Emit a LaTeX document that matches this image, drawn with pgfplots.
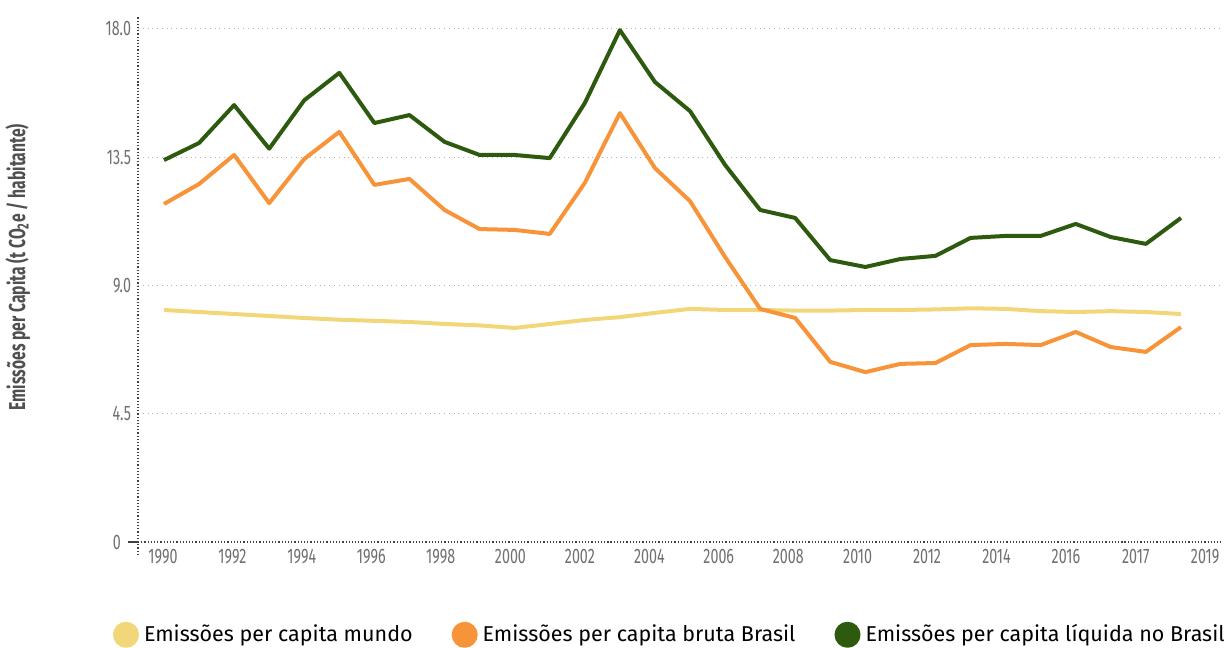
\documentclass[border=0pt]{standalone}
\usepackage{fontspec}
\setmainfont{Fira Sans}
\newfontfamily\cond[FakeStretch=0.68]{Fira Sans}
\usepackage{pgfplots}
\pgfplotsset{compat=1.18}
\definecolor{cyel}{HTML}{F2D77A}
\definecolor{corg}{HTML}{F7943A}
\definecolor{cgrn}{HTML}{2E5A0F}
\definecolor{tickgray}{HTML}{707070}
\definecolor{labgray}{HTML}{505050}
\begin{document}
\begin{tikzpicture}
\useasboundingbox (-69bp,-46.5bp) rectangle (546bp,277.5bp);
\begin{axis}[
  scale only axis, width=542bp, height=269.5bp,
  xmin=-0.741, xmax=30.17, ymin=-0.456, ymax=18.456,
  axis x line=middle, axis y line=left,
  axis line style={-, draw=black!75, densely dotted, line width=0.6bp},
  xtick={-0.03,1.95,3.93,5.91,7.89,9.88,11.86,13.84,15.82,17.80,19.78,21.76,23.74,25.72,27.71,29.69},
  xticklabels={1990,1992,1994,1996,1998,2000,2002,2004,2006,2008,2010,2012,2014,2016,2017,2019},
  ytick={4.5,9,13.5,18}, yticklabels={4.5,9.0,13.5,18.0},
  extra y ticks={0}, extra y tick labels={0},
  extra y tick style={grid=none, major tick length=5bp, tick align=outside, tick style={draw=black!75, line width=0.6bp}},
  major tick length=0pt,
  ymajorgrids, grid style={draw=black!30, dotted, line width=0.5bp},
  tick label style={font=\cond\fontsize{10.5bp}{12bp}\selectfont, text=tickgray},
  ylabel={\cond\bfseries\fontsize{11.5bp}{13bp}\selectfont Emissões per Capita (t CO\textsubscript{2}e / habitante)},
  ylabel style={at={(axis description cs:-0.111,0.534)}, anchor=center, text=labgray},
  legend columns=3,
  legend style={at={(axis description cs:0.492,-0.148)}, anchor=center, draw=none, fill=none,
    font=\fontsize{10.75bp}{13bp}\selectfont, text=black,
    nodes={inner xsep=2.5bp},
    /tikz/every even column/.append style={column sep=17bp}},
  legend image code/.code={\fill[#1] (5.5bp,0bp) circle (5.5bp);},
  every axis plot/.append style={line width=2bp, mark=none, line join=round},
]
\addplot[color=cyel] coordinates {
(0,8.14) (1,8.07) (2,8.00) (3,7.93) (4,7.86) (5,7.80) (6,7.76) (7,7.72) (8,7.65) (9,7.60)
(10,7.51) (11,7.65) (12,7.79) (13,7.89) (14,8.04) (15,8.18) (16,8.14) (17,8.14) (18,8.12) (19,8.12)
(20,8.14) (21,8.14) (22,8.16) (23,8.20) (24,8.18) (25,8.10) (26,8.07) (27,8.10) (28,8.07) (29,8.00)};
\addlegendentry{Emissões per capita mundo}
\addplot[color=corg] coordinates {
(0,11.86) (1,12.56) (2,13.58) (3,11.89) (4,13.44) (5,14.39) (6,12.53) (7,12.74) (8,11.65) (9,10.98)
(10,10.95) (11,10.81) (12,12.60) (13,15.05) (14,13.12) (15,11.96) (16,10.00) (17,8.18) (18,7.86) (19,6.32)
(20,5.96) (21,6.25) (22,6.28) (23,6.91) (24,6.95) (25,6.91) (26,7.37) (27,6.84) (28,6.67) (29,7.54)};
\addlegendentry{Emissões per capita bruta Brasil}
\addplot[color=cgrn] coordinates {
(0,13.40) (1,14.00) (2,15.33) (3,13.80) (4,15.50) (5,16.46) (6,14.70) (7,14.98) (8,14.04) (9,13.58)
(10,13.58) (11,13.47) (12,15.40) (13,17.96) (14,16.14) (15,15.12) (16,13.23) (17,11.65) (18,11.37) (19,9.89)
(20,9.65) (21,9.93) (22,10.04) (23,10.67) (24,10.74) (25,10.74) (26,11.16) (27,10.70) (28,10.46) (29,11.37)};
\addlegendentry{Emissões per capita líquida no Brasil}
\end{axis}
\end{tikzpicture}
\end{document}
